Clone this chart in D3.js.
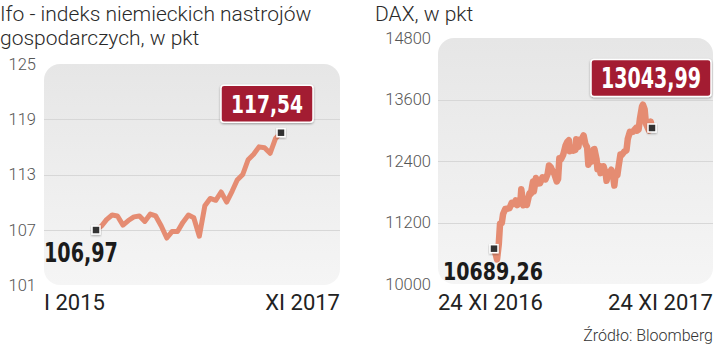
<!DOCTYPE html>
<html>
<meta charset="utf-8">
<title>Ifo i DAX</title>
<style>
	body {
		margin: 0;
		background: #fff;
	}

	text {
		font-family: Roboto, "Open Sans", sans-serif;
	}

	.title {
		font-size: 21px;
		font-weight: 300;
		fill: #2a2a2a;
	}

	.tick text {
		font-size: 16.5px;
		font-weight: 300;
		fill: #555;
	}

	.xlab {
		font-size: 22px;
		fill: #222;
	}

	.num {
		font-family: "Liberation Sans Narrow", "DejaVu Sans Condensed", sans-serif;
		font-stretch: condensed;
		font-weight: bold;
	}

	.grid {
		stroke: #d7d7d7;
		stroke-width: 1;
		shape-rendering: crispEdges;
	}

	.line {
		fill: none;
		stroke: #e58c72;
		stroke-linejoin: round;
		stroke-linecap: round;
	}
</style>

<body>
	<svg id="chart" width="720" height="345"></svg>

	<script src="https://cdn.jsdelivr.net/npm/d3@7"></script>

	<script>
		// Ifo, monthly I 2015 - XI 2017
		var ifoMonths = ["2015-01", "2015-02", "2015-03", "2015-04", "2015-05", "2015-06", "2015-07",
			"2015-08", "2015-09", "2015-10", "2015-11", "2015-12", "2016-01", "2016-02", "2016-03",
			"2016-04", "2016-05", "2016-06", "2016-07", "2016-08", "2016-09", "2016-10", "2016-11",
			"2016-12", "2017-01", "2017-02", "2017-03", "2017-04", "2017-05", "2017-06", "2017-07",
			"2017-08", "2017-09", "2017-10", "2017-11"];
		var ifoValues = [106.97, 107.4, 108.1, 108.6, 108.5, 107.5, 108.0, 108.4, 108.5, 107.9, 108.7,
			108.5, 107.4, 106.1, 106.8, 106.8, 107.8, 108.6, 108.3, 106.3, 109.6, 110.4, 110.2, 111.1,
			110.0, 111.2, 112.4, 113.0, 114.6, 115.2, 116.0, 115.9, 115.3, 116.9, 117.54];
		var ifoTicks = [101, 107, 113, 119, 125];
		var ifoXLabels = ["I 2015", "XI 2017"];

		// DAX, 24 XI 2016 - 24 XI 2017
		var daxDates = ["2016-11-24", "2016-11-28", "2016-12-01", "2016-12-05", "2016-12-08", "2016-12-12",
			"2016-12-15", "2016-12-20", "2016-12-27", "2016-12-30", "2017-01-04", "2017-01-09", "2017-01-13",
			"2017-01-17", "2017-01-20", "2017-01-24", "2017-01-26", "2017-01-31", "2017-02-03", "2017-02-08",
			"2017-02-14", "2017-02-17", "2017-02-22", "2017-02-24", "2017-03-01", "2017-03-06", "2017-03-10",
			"2017-03-16", "2017-03-20", "2017-03-23", "2017-03-28", "2017-03-31", "2017-04-04", "2017-04-07",
			"2017-04-12", "2017-04-18", "2017-04-21", "2017-04-24", "2017-04-28", "2017-05-03", "2017-05-08",
			"2017-05-12", "2017-05-16", "2017-05-18", "2017-05-23", "2017-05-26", "2017-05-31", "2017-06-02",
			"2017-06-07", "2017-06-09", "2017-06-14", "2017-06-19", "2017-06-23", "2017-06-27", "2017-06-30",
			"2017-07-05", "2017-07-07", "2017-07-12", "2017-07-14", "2017-07-19", "2017-07-21", "2017-07-26",
			"2017-07-28", "2017-08-02", "2017-08-04", "2017-08-09", "2017-08-11", "2017-08-15", "2017-08-18",
			"2017-08-22", "2017-08-25", "2017-08-29", "2017-09-01", "2017-09-05", "2017-09-08", "2017-09-12",
			"2017-09-15", "2017-09-19", "2017-09-22", "2017-09-26", "2017-09-29", "2017-10-04", "2017-10-06",
			"2017-10-11", "2017-10-13", "2017-10-18", "2017-10-20", "2017-10-24", "2017-10-27", "2017-11-01",
			"2017-11-03", "2017-11-07", "2017-11-10", "2017-11-15", "2017-11-17", "2017-11-21", "2017-11-24"];
		var daxValues = [10689.26, 10582, 10480, 10775, 11180, 11190, 11366, 11464, 11473, 11481, 11584,
			11563, 11629, 11540, 11630, 11595, 11848, 11535, 11651, 11543, 11772, 11757, 11998, 11804,
			12067, 11959, 11963, 12083, 12052, 12040, 12149, 12313, 12282, 12225, 12154, 12000, 12049,
			12455, 12438, 12527, 12694, 12770, 12805, 12590, 12659, 12602, 12615, 12823, 12674, 12816,
			12806, 12900, 12733, 12671, 12325, 12452, 12389, 12627, 12632, 12430, 12240, 12305, 12163,
			12182, 12298, 12154, 12014, 12178, 12166, 12229, 12168, 11920, 12143, 12124, 12304, 12524,
			12519, 12561, 12592, 12606, 12829, 12970, 12955, 12970, 12992, 13043, 12991, 13013, 13217,
			13465, 13500, 13406, 13127, 13033, 12994, 13168, 13043.99];
		var daxTicks = [10000, 11200, 12400, 13600, 14800];
		var daxXLabels = ["24 XI 2016", "24 XI 2017"];

		var plFormat = d3.formatLocale({ decimal: ",", thousands: "", grouping: [3], currency: ["", " zł"] }),
			fmt2 = plFormat.format(".2f"),
			fmtTick = d3.format("d");

		var parseMonth = d3.timeParse("%Y-%m"),
			parseDay = d3.timeParse("%Y-%m-%d");

		var svg = d3.select("#chart");

		var defs = svg.append("defs");

		var grad = defs.append("linearGradient")
			.attr("id", "bg")
			.attr("x1", 0).attr("y1", 0).attr("x2", 0).attr("y2", 1);
		grad.append("stop").attr("offset", "0%").attr("stop-color", "#e6e6e6");
		grad.append("stop").attr("offset", "100%").attr("stop-color", "#f5f5f5");

		var shadow = defs.append("filter")
			.attr("id", "shadow")
			.attr("x", "-20%").attr("y", "-20%").attr("width", "140%").attr("height", "160%");
		shadow.append("feDropShadow")
			.attr("dx", 0).attr("dy", 1).attr("stdDeviation", 1.2)
			.attr("flood-color", "#000").attr("flood-opacity", 0.35);

		/* ------------------------------------- */

		var ifo = {
			dates: ifoMonths.map(parseMonth),
			values: ifoValues,
			ticks: ifoTicks,
			xLabels: ifoXLabels,
			title: ["Ifo - indeks niemieckich nastrojów", "gospodarczych, w pkt"],
			titleX: 0,
			left: 44, right: 340,
			x: d3.scaleTime().domain([parseMonth("2015-01"), parseMonth("2017-11")]).range([96, 281]),
			y: d3.scaleLinear().domain([101, 125]).range([285, 64]),
			axisX: 36,
			lineWidth: 5,
			startLabel: { x: 44, y: 262, size: 27, width: 74 },
			endBox: { dx: -14, dy: -29, size: 25, width: 72 }
		};

		var dax = {
			dates: daxDates.map(parseDay),
			values: daxValues,
			ticks: daxTicks,
			xLabels: daxXLabels,
			title: ["DAX, w pkt"],
			titleX: 375,
			left: 438, right: 713,
			x: d3.scaleTime().domain([parseDay("2016-11-24"), parseDay("2017-11-24")]).range([494, 652]),
			y: d3.scaleLinear().domain([10000, 14800]).range([284, 38]),
			axisX: 431,
			lineWidth: 6.5,
			startLabel: { x: 443, y: 280, size: 25, width: 100 },
			endBox: { dx: -1, dy: -50, size: 29, width: 100 }
		};

		drawPanel(ifo);
		drawPanel(dax);

		svg.append("text")
			.attr("x", 713)
			.attr("y", 341)
			.attr("text-anchor", "end")
			.style("font-size", "16px")
			.style("font-weight", 300)
			.style("fill", "#333")
			.text("Źródło: Bloomberg");

		// squeeze a bold number horizontally so it keeps its height but fits a width
		function fitText(sel, x, y, width, anchor) {
			var w = sel.node().getComputedTextLength(),
				k = Math.min(1, width / w);
			sel.attr("x", 0).attr("y", 0)
				.attr("text-anchor", anchor)
				.attr("transform", "translate(" + x + "," + y + ") scale(" + k + ",1)");
		}

		function drawPanel(p) {
			var g = svg.append("g");
			var top = p.y.range()[1],
				bottom = p.y.range()[0];

			g.selectAll(".title")
				.data(p.title)
				.enter().append("text")
				.attr("class", "title")
				.attr("x", p.titleX)
				.attr("y", function (d, i) { return 21 + i * 24; })
				.text(function (d) { return d; });

			g.append("rect")
				.attr("x", p.left)
				.attr("y", top)
				.attr("width", p.right - p.left)
				.attr("height", bottom - top)
				.attr("rx", 16)
				.attr("fill", "url(#bg)");

			g.selectAll(".grid")
				.data(p.ticks.slice(1, -1))
				.enter().append("line")
				.attr("class", "grid")
				.attr("x1", p.left)
				.attr("x2", p.right)
				.attr("y1", function (d) { return Math.round(p.y(d)) + 0.5; })
				.attr("y2", function (d) { return Math.round(p.y(d)) + 0.5; });

			var axis = g.append("g")
				.attr("transform", "translate(" + p.axisX + ",0)")
				.call(d3.axisLeft(p.y).tickValues(p.ticks).tickFormat(fmtTick).tickSize(0).tickPadding(0));
			axis.select(".domain").remove();
			axis.selectAll(".tick text").attr("font-family", null).attr("font-size", null).attr("fill", null);

			var data = p.dates.map(function (d, i) { return { date: d, value: p.values[i] }; });

			var line = d3.line()
				.x(function (d) { return p.x(d.date); })
				.y(function (d) { return p.y(d.value); });

			g.append("path")
				.datum(data)
				.attr("class", "line")
				.attr("stroke-width", p.lineWidth)
				.attr("d", line);

			var first = data[0],
				last = data[data.length - 1];

			g.selectAll(".marker")
				.data([first, last])
				.enter().append("rect")
				.attr("class", "marker")
				.attr("x", function (d) { return p.x(d.date) - 4; })
				.attr("y", function (d) { return p.y(d.value) - 4; })
				.attr("width", 8)
				.attr("height", 8)
				.attr("fill", "#333")
				.attr("stroke", "#fff")
				.attr("stroke-width", 1.5)
				.attr("filter", "url(#shadow)");

			// start value
			var startText = g.append("text")
				.attr("class", "num")
				.style("font-size", p.startLabel.size + "px")
				.style("fill", "#1b1b1b")
				.text(fmt2(first.value));
			fitText(startText, p.startLabel.x, p.startLabel.y, p.startLabel.width, "start");

			// end value box
			var cx = p.x(last.date) + p.endBox.dx,
				cy = p.y(last.value) + p.endBox.dy,
				bw = p.endBox.width + 20,
				bh = 37;

			g.append("rect")
				.attr("x", cx - bw / 2)
				.attr("y", cy - bh / 2)
				.attr("width", bw)
				.attr("height", bh)
				.attr("rx", 3)
				.attr("fill", "#a31c31")
				.attr("stroke", "#fff")
				.attr("stroke-width", 1.5)
				.attr("filter", "url(#shadow)");

			var endText = g.append("text")
				.attr("class", "num")
				.attr("dy", "0.36em")
				.style("font-size", p.endBox.size + "px")
				.style("fill", "#fff")
				.text(fmt2(last.value));
			fitText(endText, cx, cy, p.endBox.width, "middle");

			g.selectAll(".xlab")
				.data(p.xLabels)
				.enter().append("text")
				.attr("class", "xlab")
				.attr("x", function (d, i) { return i ? p.right : p.left; })
				.attr("y", 310)
				.attr("text-anchor", function (d, i) { return i ? "end" : "start"; })
				.text(function (d) { return d; });
		}
	</script>
</body>
</html>
